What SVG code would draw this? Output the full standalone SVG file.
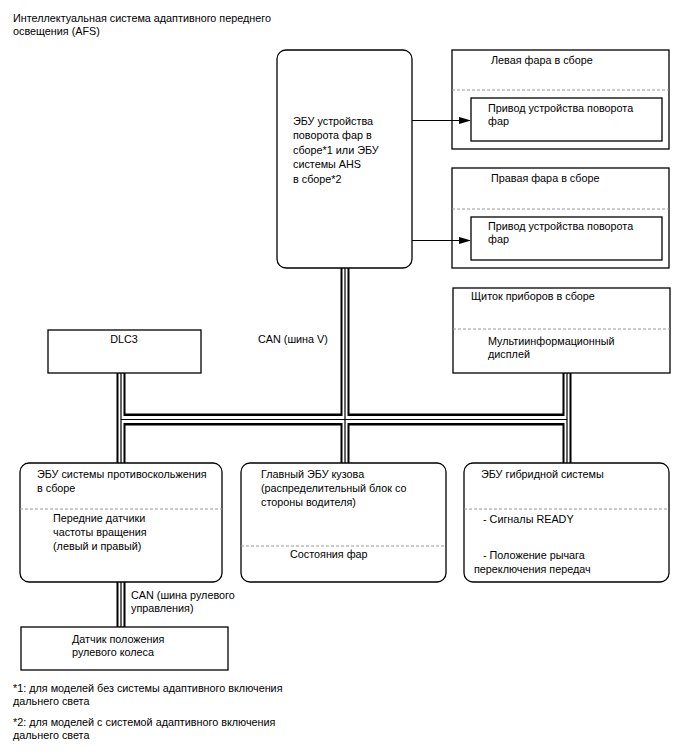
<svg xmlns="http://www.w3.org/2000/svg" width="688" height="755" viewBox="0 0 688 755">
<defs>
<style>
text{font-family:"Liberation Sans",Arial,sans-serif;font-size:10.8px;fill:#000}
.box{fill:#fff;stroke:#000;stroke-width:1.3}
.dash{stroke:#9a9a9a;stroke-width:1;stroke-dasharray:3 2;fill:none}
.arrow{stroke:#000;stroke-width:1;fill:none}
.head{fill:#000;stroke:none}
.vo{stroke:#000;stroke-width:9;fill:none}
.vw{stroke:#fff;stroke-width:5;fill:none}
.ho{stroke:#000;stroke-width:12;fill:none}
.hw{stroke:#fff;stroke-width:7;fill:none}
.c{stroke:#000;stroke-width:1.2;fill:none}
</style>
</defs>
<rect width="688" height="755" fill="#fff"/>
<g id="title">
<text x="13" y="22">Интеллектуальная система адаптивного переднего</text>
<text x="13" y="35">освещения (AFS)</text>
</g>
<g id="ecu-swivel">
<rect class="box" x="277" y="50" width="135" height="218" rx="9"/>
<text x="293" y="125">ЭБУ устройства</text>
<text x="293" y="139">поворота фар в</text>
<text x="293" y="154">сборе*1 или ЭБУ</text>
<text x="293" y="168">системы AHS</text>
<text x="293" y="183">в сборе*2</text>
</g>
<g id="left-headlamp">
<rect class="box" x="452" y="50" width="217" height="99"/>
<text x="491" y="64">Левая фара в сборе</text>
<line class="dash" x1="452" y1="90" x2="669" y2="90"/>
<rect class="box" x="471" y="98" width="191" height="43"/>
<text x="488" y="112">Привод устройства поворота</text>
<text x="488" y="125">фар</text>
</g>
<g id="right-headlamp">
<rect class="box" x="452" y="168" width="217" height="100"/>
<text x="491" y="182">Правая фара в сборе</text>
<line class="dash" x1="452" y1="209" x2="669" y2="209"/>
<rect class="box" x="471" y="217" width="191" height="43"/>
<text x="488" y="230">Привод устройства поворота</text>
<text x="488" y="243">фар</text>
</g>
<g id="instrument-cluster">
<rect class="box" x="453" y="288" width="217" height="85"/>
<text x="471" y="300">Щиток приборов в сборе</text>
<line class="dash" x1="453" y1="329" x2="670" y2="329"/>
<text x="488" y="345">Мультиинформационный</text>
<text x="488" y="358">дисплей</text>
</g>
<g id="dlc3">
<rect class="box" x="48" y="330" width="153" height="43"/>
<text x="124" y="343" text-anchor="middle">DLC3</text>
</g>
<g id="abs-ecu">
<rect class="box" x="20" y="463" width="202" height="119" rx="9"/>
<text x="37" y="478">ЭБУ системы противоскольжения</text>
<text x="37" y="492">в сборе</text>
<line class="dash" x1="20" y1="509" x2="222" y2="509"/>
<text x="53" y="522">Передние датчики</text>
<text x="53" y="536">частоты вращения</text>
<text x="53" y="550">(левый и правый)</text>
</g>
<g id="body-ecu">
<rect class="box" x="241" y="463" width="205" height="119" rx="9"/>
<text x="261" y="478">Главный ЭБУ кузова</text>
<text x="261" y="492">(распределительный блок со</text>
<text x="261" y="506">стороны водителя)</text>
<line class="dash" x1="241" y1="546" x2="446" y2="546"/>
<text x="290" y="558">Состояния фар</text>
</g>
<g id="hybrid-ecu">
<rect class="box" x="464" y="463" width="205" height="119" rx="9"/>
<text x="481" y="478">ЭБУ гибридной системы</text>
<line class="dash" x1="464" y1="509" x2="669" y2="509"/>
<text x="483" y="523">- Сигналы READY</text>
<text x="483" y="559">- Положение рычага</text>
<text x="474" y="573">переключения передач</text>
</g>
<g id="steering-sensor">
<rect class="box" x="21" y="627" width="207" height="43"/>
<text x="72" y="643">Датчик положения</text>
<text x="72" y="656">рулевого колеса</text>
</g>
<g id="connectors">
<path class="vo" d="M345,268V463M121,373V463M567,373V463M121,582V627"/>
<path class="ho" d="M121,419.5H567"/>
<path class="vw" d="M345,268.7V462.3M121,373.7V462.3M567,373.7V462.3M121,582.7V626.3"/>
<path class="hw" d="M121,419.5H567"/>
<path class="c" d="M345,268V463M121,373V463M567,373V463M121,582V627M121,419.5H567"/>
<path class="arrow" d="M412,120.5H460"/>
<polygon class="head" points="459,117 471,120.5 459,124"/>
<path class="arrow" d="M412,240.5H460"/>
<polygon class="head" points="459,237 471,240.5 459,244"/>
<text x="258" y="343">CAN (шина V)</text>
<text x="131" y="599">CAN (шина рулевого</text>
<text x="131" y="612">управления)</text>
</g>
<g id="notes">
<text x="13" y="692">*1: для моделей без системы адаптивного включения</text>
<text x="13" y="705">дальнего света</text>
<text x="13" y="726">*2: для моделей с системой адаптивного включения</text>
<text x="13" y="739">дальнего света</text>
</g>
</svg>
